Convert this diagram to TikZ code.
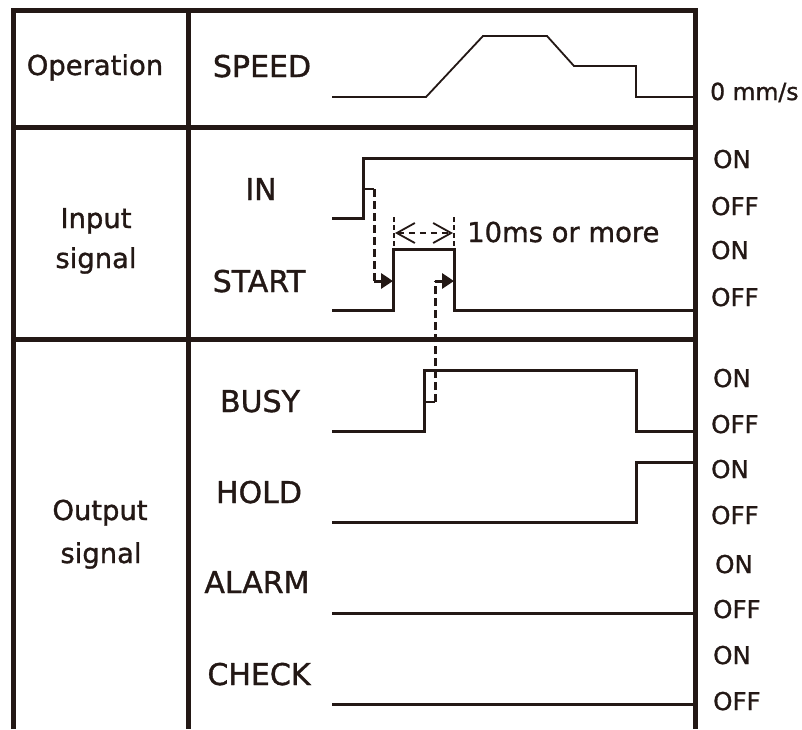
\documentclass[tikz,border=0pt]{standalone}
\usepackage{fontspec}
\setmainfont{DejaVu Sans}[FakeBold=1.2]
\usetikzlibrary{arrows.meta}
\definecolor{ink}{HTML}{231815}
\begin{document}
\begin{tikzpicture}[x=1pt,y=-1pt,
  frameln/.style={draw=ink,line width=5pt,line join=miter},
  sigln/.style={draw=ink,line width=3pt,line join=miter},
  thinsigln/.style={draw=ink,line width=1.8pt,line join=miter},
  dshln/.style={draw=ink,line width=3pt,dash pattern=on 8pt off 4pt},
  tickln/.style={draw=ink,line width=2.4pt},
  headln/.style={draw=ink,fill=ink,line width=3pt,-{Triangle[length=12pt,width=15pt]}},
  dimtickln/.style={draw=ink,line width=1.5pt,dash pattern=on 5pt off 3pt},
  dimarrowln/.style={draw=ink,line width=1.8pt,dash pattern=on 6pt off 5pt,
    {Straight Barb[length=18pt,width=20pt,line width=1.8pt]}-{Straight Barb[length=18pt,width=20pt,line width=1.8pt]}},
  sectlbl/.style={text=ink,anchor=base,inner sep=0pt,font=\fontsize{27.4}{32}\selectfont},
  siglbl/.style={text=ink,anchor=base,inner sep=0pt,font=\fontsize{30}{36}\selectfont},
  statelbl/.style={text=ink,anchor=base west,inner sep=0pt,font=\fontsize{24.5}{30}\selectfont},
  notelbl/.style={text=ink,anchor=base west,inner sep=0pt,font=\fontsize{27.4}{32}\selectfont}]
\useasboundingbox (0,0) rectangle (802,729);
\fill[white] (0,0) rectangle (802,729);
% frame
\draw[frameln] (13,729) -- (13,10) -- (695,10) -- (695,729);
\draw[frameln] (188,10) -- (188,729);
\draw[frameln] (13,127) -- (695,127);
\draw[frameln] (13,339) -- (695,339);
% section labels
\node[sectlbl] (op) at (95,75) {Operation};
\node[sectlbl] (in1) at (96,228) {Input};
\node[sectlbl] (in2) at (96,268) {signal};
\node[sectlbl] (out1) at (100,520) {Output};
\node[sectlbl] (out2) at (101,563) {signal};
% signal names
\node[siglbl] (speed) at (262,77) {SPEED};
\node[siglbl] (inn) at (261,200) {IN};
\node[siglbl] (start) at (259,292) {START};
\node[siglbl] (busy) at (260,412) {BUSY};
\node[siglbl] (hold) at (259,503) {HOLD};
\node[siglbl] (alarm) at (257,593) {ALARM};
\node[siglbl] (check) at (259,685) {CHECK};
% right labels
\node[statelbl,font=\fontsize{23.5}{28}\selectfont] (zero) at (710,100) {0 mm/s};
\node[statelbl] (on1) at (713,168) {ON};
\node[statelbl] (off1) at (711,215) {OFF};
\node[statelbl] (on2) at (711,259) {ON};
\node[statelbl] (off2) at (711,306) {OFF};
\node[statelbl] (on3) at (713,387) {ON};
\node[statelbl] (off3) at (711,433) {OFF};
\node[statelbl] (on4) at (711,478) {ON};
\node[statelbl] (off4) at (711,524) {OFF};
\node[statelbl] (on5) at (715,573) {ON};
\node[statelbl] (off5) at (713,618) {OFF};
\node[statelbl] (on6) at (713,664) {ON};
\node[statelbl] (off6) at (713,710) {OFF};
\node[notelbl] (ten) at (467,242) {10ms or more};
% waveforms
\draw[thinsigln] (332,97) -- (426,97) -- (483,36) -- (547,36) -- (574,66) -- (636,66) -- (636,97) -- (695,97);
\draw[sigln] (332,218) -- (363,218) -- (363,158) -- (695,158);
\draw[sigln] (332,310) -- (393,310) -- (393,249) -- (454,249) -- (454,310) -- (695,310);
\draw[sigln] (332,431) -- (424,431) -- (424,370) -- (636,370) -- (636,431) -- (695,431);
\draw[sigln] (332,522) -- (636,522) -- (636,462) -- (695,462);
\draw[sigln] (332,613) -- (695,613);
\draw[sigln] (332,704) -- (695,704);
% causal arrows
\coordinate (a1s) at (363,189);
\coordinate (a1c) at (374,189);
\coordinate (a1b) at (374,281);
\coordinate (a1e) at (393,281);
\draw[tickln] (a1s) -- (a1c);
\draw[dshln] (a1c) -- (a1b);
\draw[headln] (a1b) -- (a1e);
\coordinate (a2s) at (424,402);
\coordinate (a2c) at (435,402);
\coordinate (a2b) at (435,281);
\coordinate (a2e) at (454,281);
\draw[tickln] (a2s) -- (a2c);
\draw[dshln] (a2c) -- (a2b);
\draw[headln] (a2b) -- (a2e);
% dimension
\coordinate (d1t) at (394,217);
\coordinate (d1b) at (394,249);
\coordinate (d2t) at (454,217);
\coordinate (d2b) at (454,249);
\draw[dimtickln] (d1t) -- (d1b);
\draw[dimtickln] (d2t) -- (d2b);
\coordinate (dl) at (395,233);
\coordinate (dr) at (453,233);
\draw[dimarrowln] (dl) -- (dr);
\end{tikzpicture}
\end{document}
